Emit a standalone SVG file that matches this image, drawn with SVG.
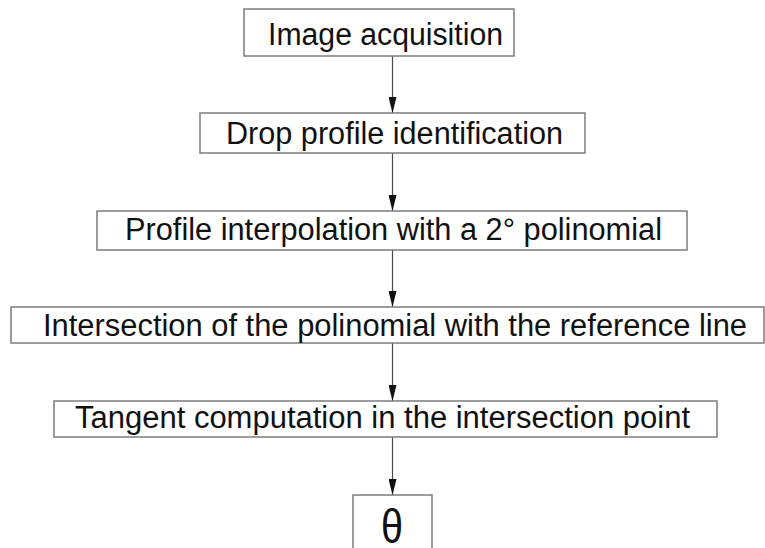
<svg xmlns="http://www.w3.org/2000/svg" width="765" height="548" viewBox="0 0 765 548">
  <style>
    .box { fill: #ffffff; stroke: #7c7c7c; stroke-width: 1.5; }
    .lbl { font-family: "Liberation Sans", Arial, sans-serif; font-size: 31px; fill: #111111; }
    .link { stroke: #4a4a4a; stroke-width: 1.2; fill: none; marker-end: url(#head); }
  </style>
  <defs>
    <!-- slim filled arrowhead, drawn along +x so orient="auto" turns it with the line -->
    <marker id="head" markerWidth="16" markerHeight="8" refX="16" refY="4" orient="auto" markerUnits="userSpaceOnUse" viewBox="0 0 16 8">
      <path d="M0,0 L16,4 L0,8 Z" fill="#111111"/>
    </marker>
  </defs>
  <rect width="765" height="548" fill="#ffffff"/>

  <g id="connectors">
    <line class="link" x1="392.5" y1="56" x2="392.5" y2="113"/>
    <line class="link" x1="392.5" y1="153" x2="392.5" y2="211"/>
    <line class="link" x1="392.5" y1="250" x2="392.5" y2="307"/>
    <line class="link" x1="392.5" y1="343" x2="392.5" y2="401"/>
    <line class="link" x1="392.5" y1="437" x2="392.5" y2="495"/>
  </g>

  <g id="image-acquisition">
    <rect class="box" x="244" y="9" width="270" height="47"/>
    <text class="lbl" x="268" y="45" textLength="235" lengthAdjust="spacingAndGlyphs">Image acquisition</text>
  </g>

  <g id="drop-profile">
    <rect class="box" x="200" y="113" width="385" height="40"/>
    <text class="lbl" x="226" y="144" textLength="337" lengthAdjust="spacingAndGlyphs">Drop profile identification</text>
  </g>

  <g id="interpolation">
    <rect class="box" x="97" y="211" width="590" height="39"/>
    <text class="lbl" x="125" y="240" textLength="537" lengthAdjust="spacingAndGlyphs">Profile interpolation with a 2° polinomial</text>
  </g>

  <g id="intersection">
    <rect class="box" x="11" y="307" width="753" height="36"/>
    <text class="lbl" x="43" y="336" textLength="704" lengthAdjust="spacingAndGlyphs">Intersection of the polinomial with the reference line</text>
  </g>

  <g id="tangent">
    <rect class="box" x="54" y="401" width="663" height="36"/>
    <text class="lbl" x="75" y="428" textLength="615" lengthAdjust="spacingAndGlyphs">Tangent computation in the intersection point</text>
  </g>

  <g id="theta">
    <rect class="box" x="353" y="495" width="79" height="60"/>
    <text class="lbl" x="392" y="543" text-anchor="middle" style="font-size:48px" textLength="22" lengthAdjust="spacingAndGlyphs">θ</text>
  </g>
</svg>
